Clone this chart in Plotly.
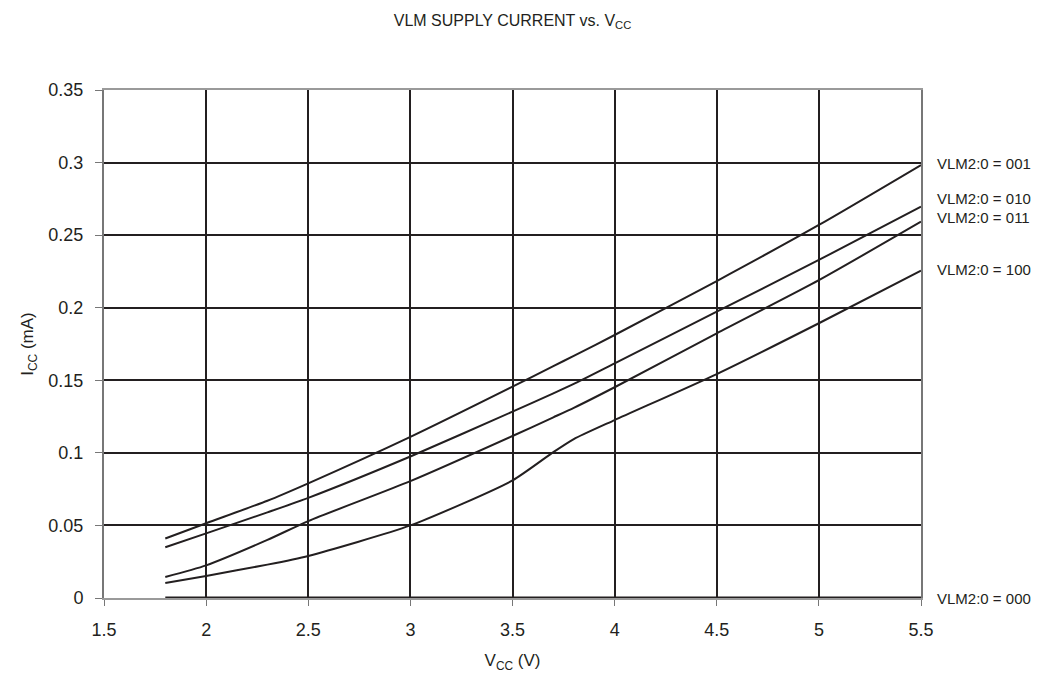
import plotly.graph_objects as go

# supply voltage points (V)
vcc = [1.8, 2.0, 2.3, 2.5, 3.0, 3.5, 3.7, 3.8, 4.0, 4.5, 5.0, 5.5]

# supply current (mA) for each VLM setting
icc_001 = [0.041, 0.0515, 0.067, 0.079, 0.111, 0.1456, 0.1598, 0.1668, 0.1812, 0.2184, 0.257, 0.2983]
icc_010 = [0.035, 0.0445, 0.059, 0.069, 0.0975, 0.1284, 0.141, 0.1475, 0.1617, 0.1973, 0.2329, 0.2696]
icc_011 = [0.0145, 0.0225, 0.040, 0.053, 0.0805, 0.1116, 0.1245, 0.131, 0.1452, 0.1824, 0.219, 0.2593]
icc_100 = [0.0103, 0.0152, 0.023, 0.029, 0.050, 0.081, 0.1005, 0.1095, 0.1226, 0.1543, 0.1893, 0.2255]
icc_000 = [0.0004] * len(vcc)

series = [
    ("VLM2:0 = 001", icc_001, 0.2995),
    ("VLM2:0 = 010", icc_010, 0.2752),
    ("VLM2:0 = 011", icc_011, 0.2622),
    ("VLM2:0 = 100", icc_100, 0.2265),
    ("VLM2:0 = 000", icc_000, 0.0),
]

fig = go.Figure()
for name, vals, _ in series:
    fig.add_trace(go.Scatter(
        x=vcc, y=vals, mode="lines", name=name,
        line=dict(color="#231f20", width=2, shape="spline", smoothing=0.6),
        showlegend=False,
    ))

# labels on the right of the plot
for name, _, ylab in series:
    fig.add_annotation(
        x=1.017, xref="paper", y=ylab, yref="y", text=name,
        showarrow=False, xanchor="left", yanchor="middle",
        font=dict(size=15, color="#231f20"),
    )

fig.update_layout(
    width=1060, height=677,
    margin=dict(l=96, r=147, t=82, b=87),
    plot_bgcolor="white", paper_bgcolor="white",
    font=dict(family="Liberation Sans, Arial, sans-serif", color="#231f20"),
    title=dict(text="VLM SUPPLY CURRENT vs. V<sub>CC</sub>", x=0.5, xref="paper",
               y=0.982, yanchor="middle", font=dict(size=16)),
)
fig.update_xaxes(
    range=[1.5, 5.5], dtick=0.5, tick0=1.5,
    showgrid=True, gridcolor="#231f20", gridwidth=2,
    showline=True, linecolor="#9a9a9a", linewidth=2, mirror=True,
    ticks="outside", ticklen=6, tickcolor="#777777", ticklabelstandoff=8,
    tickfont=dict(size=18), zeroline=False,
    title=dict(text="V<sub>CC</sub> (V)", font=dict(size=17), standoff=16),
)
fig.update_yaxes(
    range=[0, 0.35], dtick=0.05, tickformat="~g",
    showgrid=True, gridcolor="#231f20", gridwidth=2,
    showline=True, linecolor="#777777", linewidth=2, mirror=True,
    ticks="outside", ticklen=7, tickcolor="#777777", ticklabelstandoff=8,
    tickfont=dict(size=18), zeroline=False,
    title=dict(text="I<sub>CC</sub> (mA)", font=dict(size=17), standoff=10),
)

fig.write_html("out.html")
